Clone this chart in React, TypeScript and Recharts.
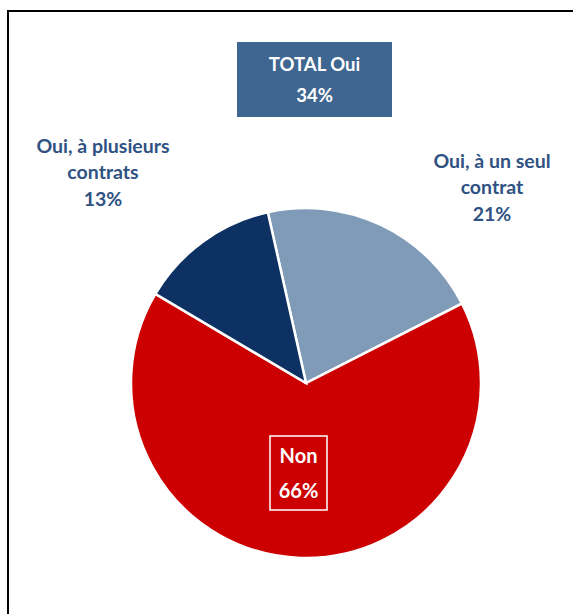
import React from 'react';
import { PieChart, Pie, Cell } from 'recharts';

const categories = ['Oui, à un seul contrat', 'Non', 'Oui, à plusieurs contrats'];
const labelLines = [['Oui, à un seul', 'contrat'], ['Non'], ['Oui, à plusieurs', 'contrats']];
const values = [21, 66, 13];
const totalOuiLabel = 'TOTAL Oui';
const totalOui = 34;

const COLORS = ['#7f9bb8', '#cc0000', '#0c3162'];
const LABEL_COLOR = '#2f5283';
const FONT = 'Lato, "Open Sans", sans-serif';
// where each outside label's first line sits, relative to the pie centre
const LABEL_OFFSETS: [number, number][] = [[186, -223], [0, 0], [-203, -238]];

const data = categories.map((name, i) => ({ name, value: values[i], lines: labelLines[i] }));

const renderLabel = (props: any) => {
    const { cx, cy, index, payload } = props;
    const lines: string[] = payload.lines ?? labelLines[index];
    const pct = `${values[index]}%`;
    if (index === 1) {
        const bx = cx - 36;
        const by = cy + 53;
        return (
            <g>
                <rect x={bx} y={by} width={57} height={74} fill="none" stroke="#fff" strokeWidth={1.5} />
                <text x={bx + 28.5} y={by + 19} textAnchor="middle" dominantBaseline="central" fill="#fff" fontSize={20} fontWeight={700} fontFamily={FONT}>{lines[0]}</text>
                <text x={bx + 28.5} y={by + 54} textAnchor="middle" dominantBaseline="central" fill="#fff" fontSize={20} fontWeight={700} fontFamily={FONT}>{pct}</text>
            </g>
        );
    }
    const [dx, dy] = LABEL_OFFSETS[index];
    const all = [...lines, pct];
    return (
        <g>
            {all.map((t, i) => (
                <text key={i} x={cx + dx} y={cy + dy + i * 26.5} textAnchor="middle" dominantBaseline="central" fill={LABEL_COLOR} fontSize={19.5} fontWeight={700} fontFamily={FONT}>
                    {t}
                </text>
            ))}
        </g>
    );
};

export default function App() {
    return (
        <div style={{ position: 'absolute', left: 0, top: 0, width: 573, height: 614, background: '#fff', overflow: 'hidden' }}>
            <div style={{ position: 'absolute', left: 7, top: 10, width: 600, height: 700, borderTop: '2px solid #000', borderLeft: '2px solid #000' }} />
            <div
                style={{
                    position: 'absolute', left: 237, top: 42, width: 155, height: 75, background: '#3f6690',
                    color: '#fff', fontFamily: FONT, fontWeight: 700, fontSize: 18.5, lineHeight: '31px',
                    display: 'flex', flexDirection: 'column', alignItems: 'center', justifyContent: 'center',
                }}
            >
                <div>{totalOuiLabel}</div>
                <div>{totalOui}%</div>
            </div>
            <div style={{ position: 'absolute', left: 0, top: 0 }}>
                <PieChart width={573} height={614}>
                    <Pie
                        data={data}
                        dataKey="value"
                        nameKey="name"
                        cx={301}
                        cy={378}
                        outerRadius={175}
                        startAngle={102.6}
                        endAngle={-257.4}
                        stroke="#fff"
                        strokeWidth={2.5}
                        label={renderLabel}
                        labelLine={false}
                        isAnimationActive={false}
                    >
                        {data.map((d, i) => (
                            <Cell key={d.name} fill={COLORS[i]} />
                        ))}
                    </Pie>
                </PieChart>
            </div>
        </div>
    );
}
